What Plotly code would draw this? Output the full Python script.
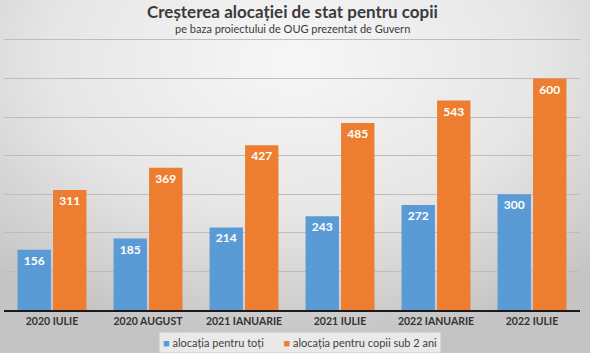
import base64
import plotly.graph_objects as go

categories = ["2020 IULIE", "2020 AUGUST", "2021 IANUARIE", "2021 IULIE", "2022 IANUARIE", "2022 IULIE"]
series_all = [156, 185, 214, 243, 272, 300]
series_under2 = [311, 369, 427, 485, 543, 600]
name_all = "alocația pentru toți"
name_under2 = "alocația pentru copii sub 2 ani"
title = "Creșterea alocației de stat pentru copii"
subtitle = "pe baza proiectului de OUG prezentat de Guvern"
color_all = "#5b9bd5"
color_under2 = "#ed7d31"

W, H = 590, 353
TOP = 38
svg = f'''<svg xmlns="http://www.w3.org/2000/svg" width="{W}" height="{H}">
<defs><radialGradient id="g" cx="0.5" cy="0.2" r="0.75" gradientUnits="objectBoundingBox">
<stop offset="0" stop-color="#f7f7f7"/><stop offset="0.55" stop-color="#e6e6e6"/><stop offset="1" stop-color="#c4c4c4"/>
</radialGradient></defs>
<rect width="{W}" height="{H}" fill="url(#g)"/></svg>'''
bg = "data:image/svg+xml;base64," + base64.b64encode(svg.encode()).decode()

font_family = "Lato, 'Open Sans', sans-serif"

fig = go.Figure()
for name, vals, col in [(name_all, series_all, color_all), (name_under2, series_under2, color_under2)]:
    fig.add_bar(x=categories, y=vals, name=name, marker_color=col,
                marker_line_width=0, text=vals, textposition="inside",
                insidetextanchor="end", textangle=0,
                textfont=dict(color="white", size=12, family=font_family, weight="bold"))

legend_text = (f"<span style='color:{color_all}'>■</span> {name_all}"
               f"       <span style='color:{color_under2}'>■</span> {name_under2}")

fig.update_layout(
    width=W, height=H,
    margin=dict(l=4, r=10, t=TOP, b=43, autoexpand=False),
    paper_bgcolor="#e4e4e4",
    plot_bgcolor="rgba(0,0,0,0)",
    barmode="group", bargap=0.26, bargroupgap=0.06,
    font=dict(family=font_family, color="#404040"),
    uniformtext=dict(minsize=12, mode="show"),
    showlegend=False,
    images=[dict(source=bg, xref="paper", yref="paper", x=-0.01, y=1.2, sizex=1.03, sizey=1.4,
                 xanchor="left", yanchor="top", sizing="stretch", layer="below")],
    annotations=[
        dict(text=f"<b>{title}</b>", xref="paper", yref="paper", x=0.5, y=1.0,
             yshift=TOP - 11, yanchor="middle", showarrow=False,
             font=dict(size=17, color="#3a3a3a", family=font_family)),
        dict(text=subtitle, xref="paper", yref="paper", x=0.5, y=1.0,
             yshift=TOP - 28, yanchor="middle", showarrow=False,
             font=dict(size=11, color="#3a3a3a", family=font_family)),
        dict(text=legend_text, xref="paper", yref="paper", x=(300 - 4) / 576, y=0,
             yshift=-(342 - 310), yanchor="middle", xanchor="center", showarrow=False,
             bgcolor="rgba(240,240,240,0.85)", borderpad=3,
             font=dict(size=11, color="#404040", family=font_family)),
    ],
)
fig.update_xaxes(showline=True, linecolor="#1a1a1a", linewidth=2, ticks="",
                 tickfont=dict(size=10.5, color="#333333", family=font_family, weight="bold"))
fig.update_yaxes(range=[0, 705], tickvals=[100, 200, 300, 400, 500, 600, 700],
                 showticklabels=False, gridcolor="#bdbdbd", gridwidth=1, zeroline=False)

fig.write_html("out.html")
